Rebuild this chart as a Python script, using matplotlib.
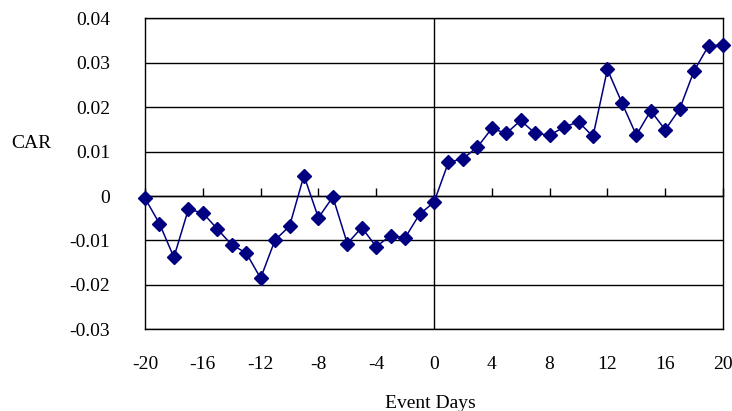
import matplotlib
matplotlib.use("Agg")
from matplotlib import pyplot as plt
from matplotlib.ticker import FuncFormatter

event_days = list(range(-20, 21))
car = [-0.0005, -0.0062, -0.0138, -0.0030, -0.0038, -0.0074, -0.0110, -0.0128,
       -0.0185, -0.0099, -0.0068, 0.0046, -0.0049, -0.0002, -0.0107, -0.0071,
       -0.0114, -0.0089, -0.0094, -0.0041, -0.0014,
       0.0076, 0.0084, 0.0110, 0.0152, 0.0141, 0.0170, 0.0141, 0.0137, 0.0155,
       0.0167, 0.0134, 0.0285, 0.0210, 0.0137, 0.0192, 0.0149, 0.0196, 0.0282,
       0.0338, 0.0340]
x_ticks = list(range(-20, 21, 4))
y_ticks = [-0.03, -0.02, -0.01, 0, 0.01, 0.02, 0.03, 0.04]

plt.rcParams['font.family'] = ['Liberation Serif', 'DejaVu Serif']
plt.rcParams['axes.unicode_minus'] = False

fig = plt.figure(figsize=(7.32, 4.11), dpi=100)
ax = fig.add_axes([145/732, 1 - 329.3/411, (723 - 145)/732, (329.3 - 18.3)/411])

ax.plot(event_days, car, color='#000080', lw=1.1, marker='D', markersize=6.8,
        clip_on=False, zorder=5)

ax.set_xlim(-20, 20)
ax.set_ylim(-0.03, 0.04)
ax.set_yticks(y_ticks)
ax.yaxis.set_major_formatter(FuncFormatter(lambda v, p: '0' if abs(v) < 1e-9 else f'{v:.2f}'))
ax.yaxis.grid(True, color='black', lw=1)
ax.set_axisbelow(True)
ax.tick_params(axis='y', length=0, pad=25, labelsize=14)
ax.axvline(0, color='black', lw=1, zorder=1)

# category axis crosses at zero, labels sit below the plot area
ax.spines['bottom'].set_position(('data', 0))
ax.set_xticks(x_ticks)
ax.tick_params(axis='x', direction='in', length=5.5, width=1, labelbottom=False)
sec = ax.secondary_xaxis('bottom')
sec.set_xticks(x_ticks)
sec.tick_params(length=0, pad=19, labelsize=14)
sec.spines['bottom'].set_linewidth(1)

for s in ['top', 'right', 'left', 'bottom']:
    ax.spines[s].set_linewidth(1)
    ax.spines[s].set_color('black')

fig.text(430/732, 1 - 403/411, 'Event Days', ha='center', va='center', fontsize=14)
fig.text(31/732, 1 - 143/411, 'CAR', ha='center', va='center', fontsize=14)

fig.savefig('out.png', dpi=100)
